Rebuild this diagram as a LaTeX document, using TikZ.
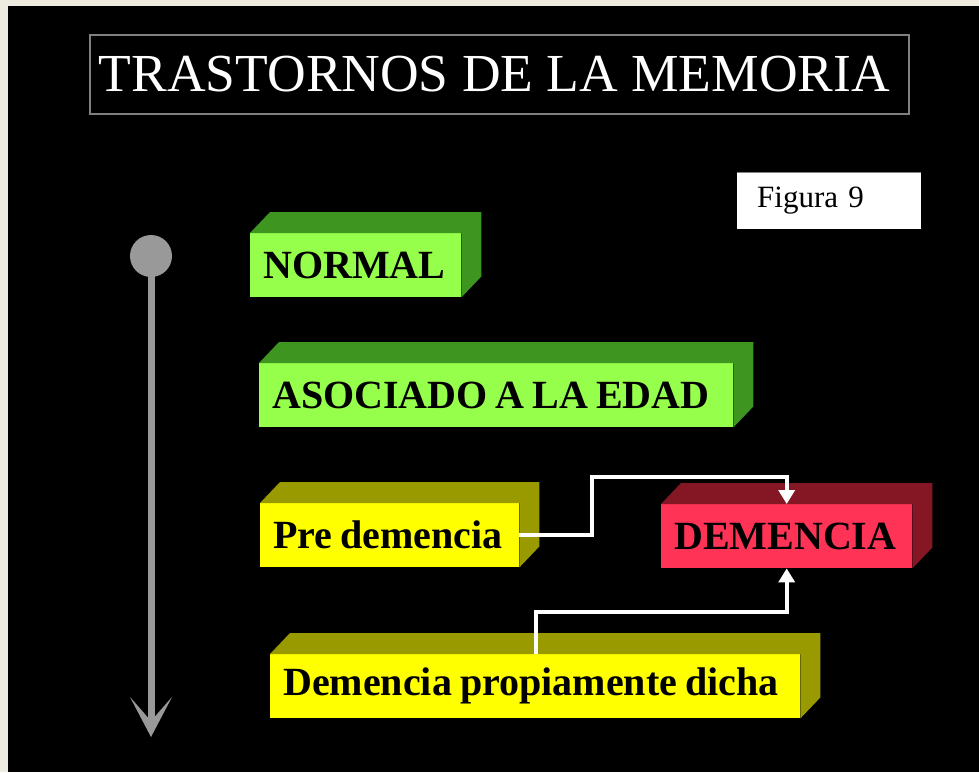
\documentclass[tikz,border=0pt]{standalone}
\usepackage{fontspec}
\setmainfont{Liberation Serif}
\usetikzlibrary{arrows.meta}
\definecolor{pagebeige}{RGB}{238,235,224}
\definecolor{grfront}{RGB}{150,255,75}
\definecolor{grside}{RGB}{62,150,32}
\definecolor{yefront}{RGB}{255,255,0}
\definecolor{yeside}{RGB}{153,153,0}
\definecolor{rdfront}{RGB}{255,51,85}
\definecolor{rdside}{RGB}{133,23,37}
\definecolor{tlgray}{RGB}{153,153,153}
\definecolor{framegray}{RGB}{128,128,128}
\newcommand\tightspace{\spaceskip=0.2em\relax}
\tikzset{
  slab/.style={anchor=north west, inner xsep=13pt, inner ysep=0pt, minimum height=64pt,
    font=\fontsize{40}{44}\selectfont\bfseries, execute at begin node=\tightspace, text=black, align=left},
  conn/.style={draw=white, line width=4pt, -{Triangle[length=14pt 0 0,width=16pt 0 0]}},
}
\newcommand\slabdepth[2]{\fill[#2] (#1.north west) -- ([shift={(20,-21)}]#1.north west) -- ([shift={(20,-21)}]#1.north east) -- ([shift={(20,-21)}]#1.south east) -- (#1.south east) -- (#1.north east) -- cycle;}
\begin{document}
\begin{tikzpicture}[x=1pt,y=-1pt]
\useasboundingbox (0,0) rectangle (979,772);
\fill[pagebeige] (0,0) rectangle (979,772);
\fill[black] (8,6) rectangle (979,772);

% title
\node[draw=framegray, line width=1.5pt, minimum width=819pt, minimum height=79pt, text=white,
  font=\fontsize{53.5}{60}\selectfont] (title) at (499.5,74.5) {\hspace{-10pt}TRASTORNOS DE LA MEMORIA};

% figura label
\node[fill=white, anchor=north west, minimum height=57pt, text width=164pt, inner xsep=10pt, inner ysep=0pt,
  align=left, font=\fontsize{31}{36}\selectfont, text=black] (fig) at (737,172) {\hspace{10pt}Figura 9};
\draw[framegray, line width=1pt] (fig.north west) -- (fig.north east);

% timeline
\node[circle, fill=tlgray, minimum size=42pt, inner sep=0pt] (start) at (151,256) {};
\coordinate (tlend) at (151,737);
\draw[tlgray, line width=7pt, -{Stealth[length=40pt 0 0, width=42pt 0 0, inset=24pt 0]}] (start.center) -- (tlend);

% slabs
\node[slab, fill=grfront, text width=185pt] (normal) at (250,233) {NORMAL};
\slabdepth{normal}{grside}
\node[slab, fill=grfront, text width=448pt] (asoc) at (259,363) {ASOCIADO A LA EDAD};
\slabdepth{asoc}{grside}
\node[slab, fill=yefront, text width=233pt] (pre) at (260,503) {Pre demencia};
\slabdepth{pre}{yeside}
\node[slab, fill=rdfront, text width=225pt] (dem) at (661,504) {DEMENCIA};
\slabdepth{dem}{rdside}
\node[slab, fill=yefront, text width=504pt] (dpd) at (270,654) {Demencia propiamente dicha};
\slabdepth{dpd}{yeside}

% connectors
\coordinate (k1) at (592,477);
\coordinate (k2) at (536,612);
\draw[conn, line join=miter] (pre.east) -| (k1) -| (dem.north);
\draw[conn, line join=miter] (k2 |- dpd.north) -- (k2) -| (dem.south);
\end{tikzpicture}
\end{document}
